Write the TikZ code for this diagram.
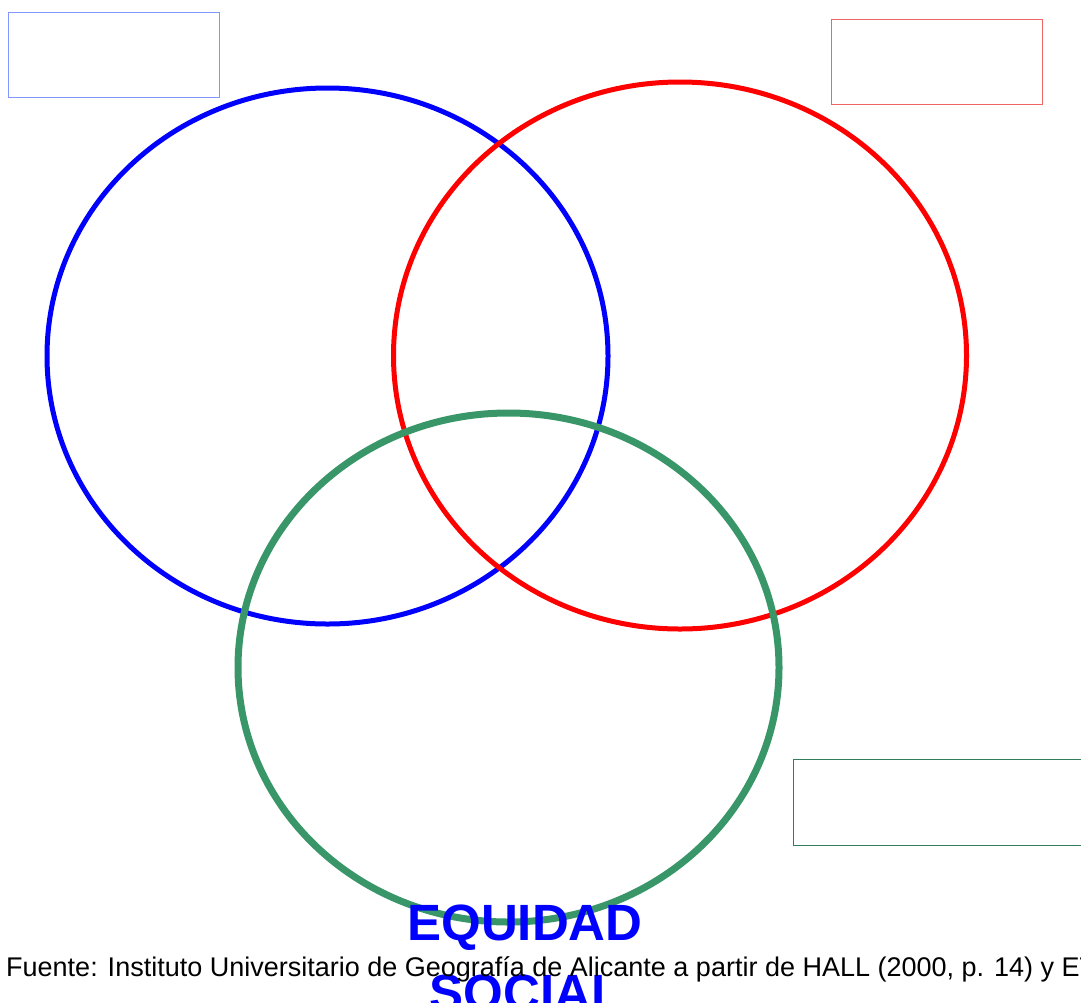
\documentclass[tikz,border=0pt]{standalone}
\usepackage{fontspec}
\setmainfont{Liberation Sans}
\definecolor{boxblue}{RGB}{130,150,255}
\definecolor{boxred}{RGB}{240,100,100}
\definecolor{boxgreen}{RGB}{50,125,90}
\definecolor{ringgreen}{RGB}{56,150,104}
\begin{document}
\begin{tikzpicture}[x=1pt,y=-1pt,
  emptybox/.style={draw, line width=1.2pt, inner sep=0pt, anchor=north west, minimum width=#1},
  emptybox/.default=211pt]
\useasboundingbox (0,0) rectangle (1081,1002);
\clip (0,0) rectangle (1081,1002);
\node[emptybox, draw=boxblue, minimum height=85pt] (bb) at (8,12) {};
\node[emptybox, draw=boxred, minimum height=85pt] (rb) at (831,19) {};
\node[emptybox=300pt, draw=boxgreen, minimum height=86pt] (gb) at (793,759) {};
\draw[blue, line width=5pt] (327.5,356) ellipse [x radius=280.5, y radius=268];
\draw[red, line width=5pt] (680,355.5) ellipse [x radius=286.5, y radius=273.5];
\draw[ringgreen, line width=7pt] (508.5,667.5) ellipse [x radius=270.5, y radius=254.5];
\node[anchor=base, inner sep=0pt, text=blue, font=\bfseries\fontsize{51}{60}\selectfont] (eq) at (525,940) {EQUIDAD};
\node[anchor=base, inner sep=0pt, text=blue, font=\bfseries\fontsize{51}{60}\selectfont] (so) at (526,1010) {SOCIAL};
\node[anchor=base west, inner sep=0pt, font=\fontsize{27}{32}\selectfont] (src) at (6,976) {Fuente: Instituto Universitario de Geografía de Alicante a partir de HALL (2000, p. 14) y ET};
\end{tikzpicture}
\end{document}
